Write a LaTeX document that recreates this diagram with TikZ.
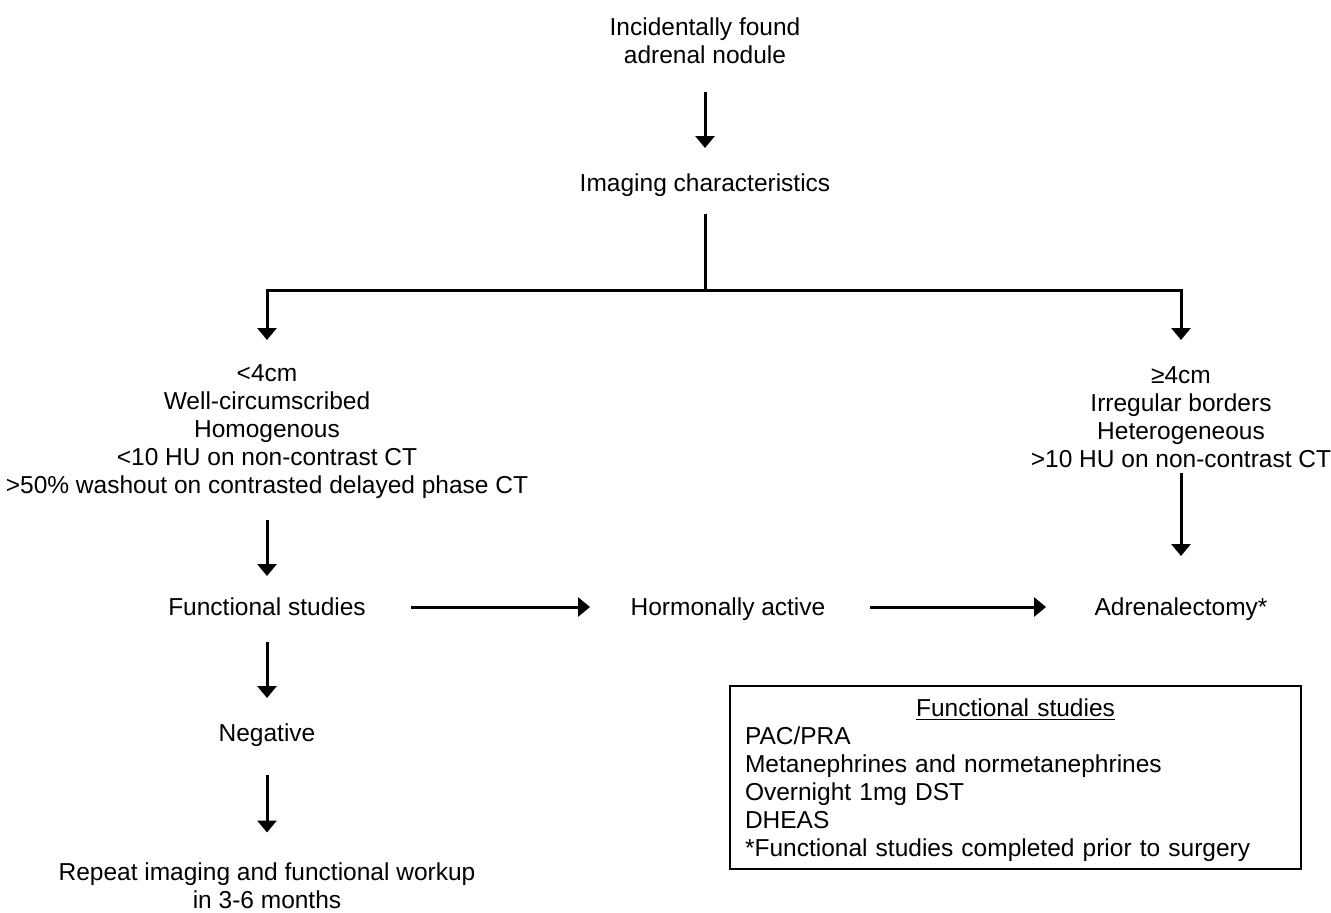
\documentclass[tikz,border=0pt]{standalone}
\usepackage{fontspec}
\setmainfont{Liberation Sans}
\usetikzlibrary{arrows.meta}
\begin{document}
\begin{tikzpicture}[x=0.5pt,y=-0.5pt,
  txt/.style={font=\fontsize{12.25}{14}\selectfont, align=center, inner sep=0pt},
  one/.style={txt, text height=8.7pt, text depth=0pt},
  ln/.style={line width=1.5pt},
  arr/.style={ln, -{Triangle[width=9.5pt,length=6pt]}},
  infobox/.style={draw, line width=0.7pt, minimum width=285.5pt, minimum height=91.5pt,
    text width=270.5pt, inner xsep=7.5pt, inner ysep=0pt, align=left,
    font=\fontsize{12.25}{14}\selectfont}
]
\useasboundingbox (0,0) rectangle (1331,912);

\node[txt] (top) at (705,41) {Incidentally found\\adrenal nodule};
\node[one] (img) at (705,183) {Imaging characteristics};
\node[txt] (L) at (267,431.5) {<4cm\\Well-circumscribed\\Homogenous\\<10 HU on non-contrast CT\\>50\% washout on contrasted delayed phase CT};
\node[txt] (R) at (1181,417) {≥4cm\\Irregular borders\\Heterogeneous\\>10 HU on non-contrast CT};
\node[one] (fs) at (267,607) {Functional studies};
\node[one] (ha) at (728,607) {Hormonally active};
\node[one] (adr) at (1181,607) {Adrenalectomy*};
\node[one] (neg) at (267,733) {Negative};
\node[txt] (rep) at (267,886) {Repeat imaging and functional workup\\in 3-6 months};
\node[infobox] (box) at (1015.5,777.5) {\makebox[\linewidth]{\rule{0pt}{11.8pt}\underline{Functional studies}}\\PAC/PRA\\Metanephrines and normetanephrines\\Overnight 1mg DST\\DHEAS\\{*}Functional studies completed prior to surgery};

\coordinate (br) at (705,290);
\draw[arr, shorten <=25.5pt, shorten >=17.5pt] (top.center) -- (img.center);
\draw[ln, shorten <=15.5pt] (img.center) -- (br);
\draw[arr, shorten >=45.75pt] (br) -| (L.center);
\draw[arr, shorten >=38.5pt] (br) -| (R.center);
\draw[arr, shorten <=44.25pt, shorten >=15.5pt] (L.center) -- (fs.center);
\draw[arr, shorten <=28pt, shorten >=25.5pt] (R.center) -- (adr.center);
\draw[arr, shorten <=72pt, shorten >=69pt] (fs.center) -- (ha.center);
\draw[arr, shorten <=71pt, shorten >=67.5pt] (ha.center) -- (adr.center);
\draw[arr, shorten <=17.5pt, shorten >=17.5pt] (fs.center) -- (neg.center);
\draw[arr, shorten <=21pt, shorten >=26.75pt] (neg.center) -- (rep.center);
\end{tikzpicture}
\end{document}
